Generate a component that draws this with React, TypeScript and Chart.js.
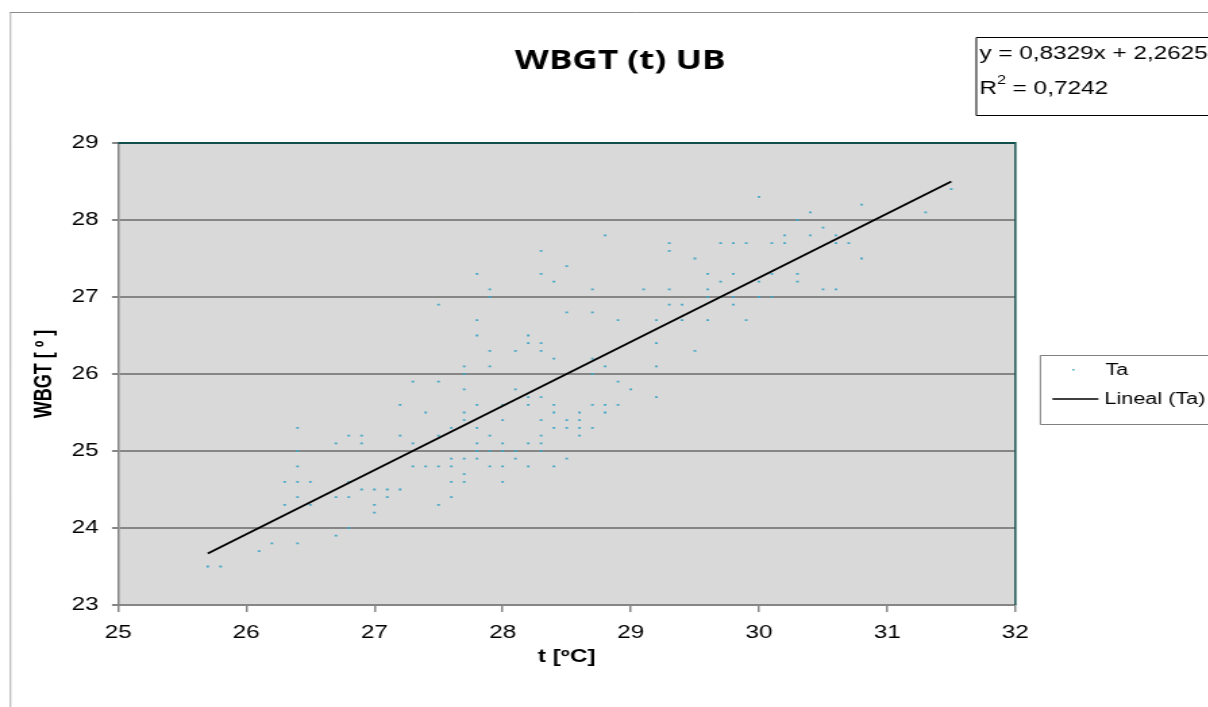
import React, { useEffect, useRef } from "react";
import { Chart, registerables } from "chart.js";

Chart.register(...registerables);

// ---- texts ----
const chartTitle = "WBGT (t) UB";
const xAxisTitle = "t [ºC]";
const yAxisTitle = "WBGT [ º ]";
const seriesName = "Ta";
const trendName = "Lineal (Ta)";
const equationText = "y = 0,8329x + 2,2625";
const r2ValueText = " = 0,7242";

// ---- ticks ----
const xTickValues = [25, 26, 27, 28, 29, 30, 31, 32];
const yTickValues = [23, 24, 25, 26, 27, 28, 29];

// ---- trendline (from the chart's own equation) ----
const trendSlope = 0.8329;
const trendIntercept = 2.2625;

// ---- data: t [ºC] and WBGT ----
const tValues = [
  27.3, 27.2, 26.4, 26.8, 26.9, 27.2, 26.7, 26.9, 27.3, 26.4, 26.4, 27.3, 26.3, 26.4, 26.5, 26.8, 26.9, 27.0,
  27.1, 27.2, 26.4, 26.7, 26.8, 27.1, 26.3, 26.5, 27.0, 27.0, 26.8, 26.7, 26.2, 26.4, 26.1, 25.7, 25.8,
  28.8, 29.3, 29.3, 28.3, 29.5, 28.5, 27.8, 28.3, 29.6, 28.4, 27.9, 28.7, 29.1, 29.3, 29.6, 27.9, 29.6,
  27.5, 29.3, 29.4, 28.5, 28.7, 27.8, 28.9, 29.2, 29.4, 29.6, 27.8, 28.2, 28.2, 28.3, 29.2, 27.9, 28.1,
  28.3, 29.5, 28.4, 28.7, 27.7, 27.9, 28.8, 29.2, 27.7, 28.7,
  27.5, 28.9, 27.7, 28.1, 29.0, 28.2, 28.3, 29.2, 27.8, 28.0, 28.2, 28.4, 28.7, 28.8, 28.9, 27.4, 27.7,
  28.4, 28.6, 28.8, 27.7, 28.0, 28.3, 28.5, 28.6, 27.6, 27.8, 28.4, 28.5, 28.6, 28.7, 27.5, 27.9, 28.3,
  28.6, 27.8, 28.0, 28.2, 28.3, 27.8, 27.9, 28.0, 28.1, 28.3, 27.6, 27.7, 27.8, 28.1, 28.5, 27.4, 27.5,
  27.6, 27.9, 28.0, 28.2, 28.4, 27.7, 27.6, 27.7, 28.0, 27.6, 27.5,
  30.0, 30.8, 31.5, 31.3, 30.4, 30.3, 30.5, 30.2, 30.4, 30.6, 29.7, 29.8, 29.9, 30.1, 30.2, 30.6, 30.7,
  30.8, 29.8, 30.1, 30.3, 29.7, 30.0, 30.3, 30.5, 30.6, 29.7, 29.8, 30.0, 30.1, 29.8, 29.9,
];
const wbgtValues = [
  25.9, 25.6, 25.3, 25.2, 25.2, 25.2, 25.1, 25.1, 25.1, 25.0, 24.8, 24.8, 24.6, 24.6, 24.6, 24.6, 24.5, 24.5,
  24.5, 24.5, 24.4, 24.4, 24.4, 24.4, 24.3, 24.3, 24.3, 24.2, 24.0, 23.9, 23.8, 23.8, 23.7, 23.5, 23.5,
  27.8, 27.7, 27.6, 27.6, 27.5, 27.4, 27.3, 27.3, 27.3, 27.2, 27.1, 27.1, 27.1, 27.1, 27.1, 27.0, 27.0,
  26.9, 26.9, 26.9, 26.8, 26.8, 26.7, 26.7, 26.7, 26.7, 26.7, 26.5, 26.5, 26.4, 26.4, 26.4, 26.3, 26.3,
  26.3, 26.3, 26.2, 26.2, 26.1, 26.1, 26.1, 26.1, 26.0, 26.0,
  25.9, 25.9, 25.8, 25.8, 25.8, 25.7, 25.7, 25.7, 25.6, 25.6, 25.6, 25.6, 25.6, 25.6, 25.6, 25.5, 25.5,
  25.5, 25.5, 25.5, 25.4, 25.4, 25.4, 25.4, 25.4, 25.3, 25.3, 25.3, 25.3, 25.3, 25.3, 25.2, 25.2, 25.2,
  25.2, 25.1, 25.1, 25.1, 25.1, 25.0, 25.0, 25.0, 25.0, 25.0, 24.9, 24.9, 24.9, 24.9, 24.9, 24.8, 24.8,
  24.8, 24.8, 24.8, 24.8, 24.8, 24.7, 24.6, 24.6, 24.6, 24.4, 24.3,
  28.3, 28.2, 28.4, 28.1, 28.1, 28.0, 27.9, 27.8, 27.8, 27.8, 27.7, 27.7, 27.7, 27.7, 27.7, 27.7, 27.7,
  27.5, 27.3, 27.3, 27.3, 27.2, 27.2, 27.2, 27.1, 27.1, 27.0, 27.0, 27.0, 27.0, 26.9, 26.7,
];

// ---- layout (the original picture is stretched horizontally) ----
const SX = 1.35;
const CW = 933;
const CH = 720;
const PLOT_LEFT = 118 / SX;
const PLOT_RIGHT = 1015 / SX;
const PAD_LEFT = 21.8;
const PAD_BOTTOM = 52.2;

const POINT_COLOR = "#3FA6C6";
const GRID_COLOR = "#868686";
const FRAME_COLOR = "#114F4F";
const SANS = "'Liberation Sans', Arial, sans-serif";

const decorPlugin = {
  id: "decor",
  beforeDraw(chart: any) {
    const { ctx, chartArea: a } = chart;
    ctx.save();
    ctx.fillStyle = "#ffffff";
    ctx.fillRect(0, 0, chart.width, chart.height);
    // outer chart border
    ctx.strokeStyle = "#8c8c8c";
    ctx.lineWidth = 1;
    ctx.beginPath();
    ctx.moveTo(10 / SX, 12.5);
    ctx.lineTo(chart.width, 12.5);
    ctx.stroke();
    ctx.lineWidth = 1 / SX;
    ctx.beginPath();
    ctx.moveTo(10.5 / SX, 12);
    ctx.lineTo(10.5 / SX, chart.height);
    ctx.stroke();
    // plot background
    ctx.fillStyle = "#D9D9D9";
    ctx.fillRect(a.left, a.top, a.right - a.left, a.bottom - a.top);
    ctx.restore();
  },
  afterDraw(chart: any) {
    const { ctx, chartArea: a } = chart;
    ctx.save();
    // top & right plot frame
    ctx.strokeStyle = FRAME_COLOR;
    ctx.lineWidth = 2;
    ctx.beginPath();
    ctx.moveTo(a.left, a.top);
    ctx.lineTo(a.right, a.top);
    ctx.stroke();
    ctx.lineWidth = 2 / SX;
    ctx.beginPath();
    ctx.moveTo(a.right, a.top - 1);
    ctx.lineTo(a.right, a.bottom);
    ctx.stroke();

    // title
    ctx.fillStyle = "#000";
    ctx.textAlign = "center";
    ctx.textBaseline = "middle";
    ctx.font = "bold 26px 'Open Sans', sans-serif";
    ctx.fillText(chartTitle, 620 / SX, 62);

    // equation box
    ctx.strokeStyle = "#000";
    ctx.lineWidth = 1;
    ctx.beginPath();
    ctx.moveTo(chart.width, 37.5);
    ctx.lineTo(976 / SX, 37.5);
    ctx.lineTo(976 / SX, 115.5);
    ctx.lineTo(chart.width, 115.5);
    ctx.stroke();
    ctx.textAlign = "left";
    ctx.font = `18px ${SANS}`;
    const ex = 979 / SX;
    ctx.fillText(equationText, ex, 54);
    ctx.fillText("R", ex, 89);
    const rw = ctx.measureText("R").width;
    ctx.font = `12px ${SANS}`;
    ctx.fillText("2", ex + rw, 81);
    const sw = ctx.measureText("2").width;
    ctx.font = `18px ${SANS}`;
    ctx.fillText(r2ValueText, ex + rw + sw, 89);

    // legend box
    ctx.strokeStyle = "#7f7f7f";
    ctx.lineWidth = 1;
    ctx.beginPath();
    ctx.moveTo(chart.width, 355.5);
    ctx.lineTo(1040 / SX, 355.5);
    ctx.lineTo(1040 / SX, 424.5);
    ctx.lineTo(chart.width, 424.5);
    ctx.stroke();
    ctx.fillStyle = POINT_COLOR;
    ctx.fillRect(1072 / SX, 369, 2 / SX, 1.5);
    ctx.strokeStyle = "#000";
    ctx.lineWidth = 1.6;
    ctx.beginPath();
    ctx.moveTo(1052 / SX, 399);
    ctx.lineTo(1098 / SX, 399);
    ctx.stroke();
    ctx.fillStyle = "#000";
    ctx.font = `16px ${SANS}`;
    ctx.fillText(seriesName, 1105 / SX, 371);
    ctx.fillText(trendName, 1104 / SX, 400);
    ctx.restore();
  },
};

export default function App() {
  const canvasRef = useRef<HTMLCanvasElement | null>(null);

  useEffect(() => {
    if (!canvasRef.current) return;
    const points = tValues.map((t, i) => ({ x: t, y: wbgtValues[i] }));
    const tMin = Math.min(...tValues);
    const tMax = Math.max(...tValues);
    const trend = [
      { x: tMin, y: trendSlope * tMin + trendIntercept },
      { x: tMax, y: trendSlope * tMax + trendIntercept },
    ];

    const chart = new Chart(canvasRef.current, {
      type: "scatter",
      data: {
        datasets: [
          {
            label: seriesName,
            data: points,
            pointStyle: "rect",
            pointRadius: 1.3,
            borderWidth: 0,
            backgroundColor: POINT_COLOR,
            order: 1,
          },
          {
            label: trendName,
            data: trend,
            showLine: true,
            borderColor: "#000000",
            borderWidth: 1.8,
            pointRadius: 0,
            order: 0,
          } as any,
        ],
      },
      options: {
        responsive: false,
        animation: false,
        devicePixelRatio: 1,
        layout: {
          padding: {
            left: PAD_LEFT,
            right: CW - PLOT_RIGHT,
            top: 143,
            bottom: PAD_BOTTOM,
          },
        },
        plugins: {
          legend: { display: false },
          title: { display: false },
          tooltip: { enabled: false },
        },
        scales: {
          x: {
            type: "linear",
            min: xTickValues[0],
            max: xTickValues[xTickValues.length - 1],
            afterBuildTicks: (s: any) => {
              s.ticks = xTickValues.map((v) => ({ value: v }));
            },
            afterFit: (s: any) => {
              s.height = 667.8 - 605;
            },
            grid: {
              drawOnChartArea: false,
              drawTicks: true,
              tickLength: 7,
              color: GRID_COLOR,
              lineWidth: 2 / SX,
            },
            border: { display: true, color: GRID_COLOR, width: 2 },
            ticks: {
              padding: 10,
              maxRotation: 0,
              autoSkip: false,
              color: "#000",
              font: { family: SANS, size: 18 },
            },
            title: {
              display: true,
              text: xAxisTitle,
              color: "#000",
              padding: 0,
              font: { family: SANS, size: 18, weight: "bold" },
            },
          },
          y: {
            type: "linear",
            min: yTickValues[0],
            max: yTickValues[yTickValues.length - 1],
            afterBuildTicks: (s: any) => {
              s.ticks = yTickValues.map((v) => ({ value: v }));
            },
            afterFit: (s: any) => {
              s.width = PLOT_LEFT - PAD_LEFT;
            },
            grid: {
              drawOnChartArea: true,
              drawTicks: true,
              tickLength: 6 / SX,
              color: GRID_COLOR,
              lineWidth: 2,
            },
            border: { display: true, color: GRID_COLOR, width: 2 / SX },
            ticks: {
              padding: 10,
              autoSkip: false,
              color: "#000",
              font: { family: SANS, size: 18 },
            },
            title: {
              display: true,
              text: yAxisTitle,
              color: "#000",
              padding: 0,
              font: { family: SANS, size: 18, weight: "bold" },
            },
          },
        },
      } as any,
      plugins: [decorPlugin],
    });
    return () => chart.destroy();
  }, []);

  return (
    <div
      style={{
        position: "fixed",
        left: 0,
        top: 0,
        width: 1208,
        height: 707,
        overflow: "hidden",
        background: "#ffffff",
      }}
    >
      <canvas
        ref={canvasRef}
        width={CW}
        height={CH}
        style={{ width: `${CW * SX}px`, height: `${CH}px`, display: "block" }}
      />
    </div>
  );
}
